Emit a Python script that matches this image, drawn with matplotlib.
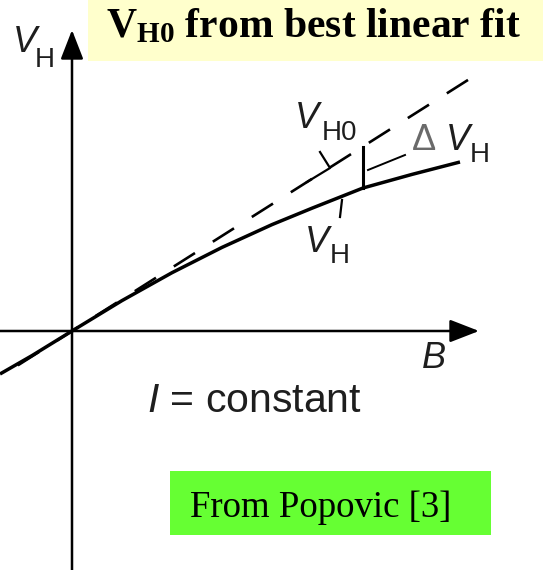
import matplotlib
matplotlib.use('Agg')
import matplotlib.pyplot as plt
from matplotlib.patches import Rectangle

plt.rcParams['mathtext.fontset'] = 'custom'
plt.rcParams['mathtext.rm'] = 'Liberation Sans'
plt.rcParams['mathtext.it'] = 'Liberation Sans:italic'
plt.rcParams['mathtext.bf'] = 'Liberation Serif:bold'

# Hall voltage vs. field at constant current (arbitrary units)
B_meas = [-0.72, -0.40, 0.0, 0.50, 1.00, 1.50, 2.00, 2.40, 2.91, 3.40, 3.88]
VH_meas = [-0.43, -0.246, 0.0, 0.304, 0.583, 0.836, 1.064, 1.228, 1.43, 1.566, 1.69]

# best linear fit through the low-field part
fit_slope = 0.634
B_fit = [-0.72, 3.96]
VH_fit = [fit_slope * b for b in B_fit]

# field at which the deviation is marked
B_mark = 2.91

fig = plt.figure(figsize=(5.43, 5.70), dpi=100)
ax = fig.add_axes([0, 0, 1, 1])
ax.set_xlim(-0.72, 4.71)
ax.set_ylim(-2.39, 3.31)
ax.axis('off')

# coordinate axes with arrow heads
arrow = dict(arrowstyle='-|>,head_length=0.9,head_width=0.35', lw=1.8, color='black',
             shrinkA=0, shrinkB=0, mutation_scale=20)
ax.annotate('', xy=(4.07, 0), xytext=(-0.72, 0), arrowprops=arrow)
ax.annotate('', xy=(0, 3.01), xytext=(0, -2.39), arrowprops=arrow)

ax.plot(B_meas, VH_meas, color='black', lw=2.5, solid_capstyle='butt')
# dash pattern starts at the high-field end
ax.plot(B_fit[::-1], VH_fit[::-1], color='black', lw=1.9, dashes=(9.5, 8))

# deviation marker between fit and measured curve
i = B_meas.index(B_mark)
ax.plot([B_mark, B_mark], [VH_meas[i], fit_slope * B_mark], color='black', lw=2.2)
ax.plot([2.96, 3.33], [1.61, 1.76], color='black', lw=1.4)
ax.plot([2.48, 2.58, 2.35], [1.79, 1.63, 1.49], color='black', lw=1.6)
ax.plot([2.70, 2.68], [1.31, 1.14], color='black', lw=1.6)

ink = '#1e1e1e'
main = dict(family='Liberation Sans', fontsize=26, color=ink, va='baseline', ha='left')
sub = dict(family='Liberation Sans', fontsize=20, color=ink, va='baseline', ha='left')


def sym(x, y, letter, xs, ys, index):
    ax.text(x, y, letter, style='italic', **main)
    ax.text(xs, ys, index, **sub)


sym(-0.59, 2.79, 'V', -0.37, 2.64, 'H')
sym(2.23, 2.03, 'V', 2.50, 1.91, 'H0')
sym(3.74, 1.81, 'V', 3.98, 1.69, 'H')
sym(2.33, 0.79, 'V', 2.58, 0.68, 'H')
ax.text(3.40, 1.81, '\u0394', family='Liberation Sans', fontsize=26, color='#6a6a6a',
        va='baseline', ha='left')
ax.text(3.50, -0.37, 'B', style='italic', **main)
ax.text(0.75, -0.81, r'$I$ = constant', family='Liberation Sans', fontsize=29.5,
        color=ink, va='baseline', ha='left')

# title banner
ax.add_patch(Rectangle((0.16, 2.70), 4.55, 0.61, facecolor='#ffffcc', edgecolor='none', zorder=0))
ax.text(0.34, 2.94, r'$\mathbf{V_{H0}}$ from best linear fit', family='Liberation Serif',
        fontweight='bold', fontsize=30, va='baseline', ha='left')

# source note
ax.add_patch(Rectangle((0.98, -2.04), 3.21, 0.64, facecolor='#66ff33', edgecolor='none', zorder=0))
ax.text(1.18, -1.86, 'From Popovic [3]', family='Liberation Serif', fontsize=26.5,
        va='baseline', ha='left')

fig.savefig('out.png', dpi=100)
